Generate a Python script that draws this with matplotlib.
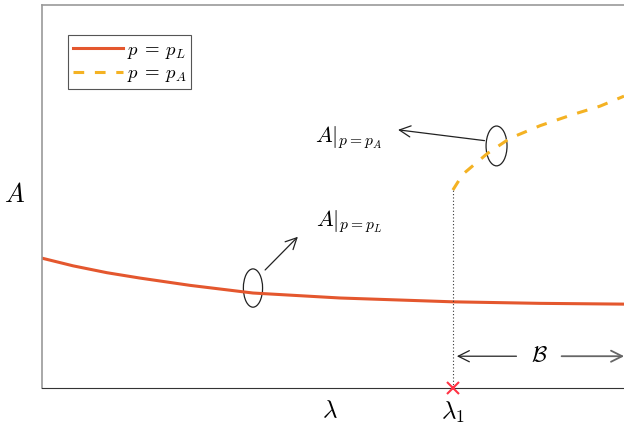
import matplotlib
matplotlib.use("Agg")
import matplotlib.pyplot as plt
from matplotlib.patches import Ellipse

plt.rcParams['mathtext.fontset'] = 'cm'
plt.rcParams['font.family'] = ['DejaVu Sans']

# Data
lam_L = [0.0, 0.533, 1.117, 1.684, 2.543, 3.625, 5.12, 7.06, 8.56, 10.0]
A_L = [3.39, 3.19, 3.01, 2.87, 2.68, 2.48, 2.35, 2.25, 2.21, 2.19]
lam_A = [7.06, 7.23, 7.65, 8.04, 8.56, 9.12, 9.59, 10.0]
A_A = [5.17, 5.58, 6.12, 6.52, 6.85, 7.14, 7.36, 7.62]
lam1 = 7.06
labels = [r'$p\:=\:p_L$', r'$p\:=\:p_A$']

c_L = '#E4572E'
c_A = '#F4B223'

fig = plt.figure(figsize=(6.24, 4.28), dpi=100)
ax = fig.add_axes([42/624, 40/428, 1 - 42/624, 383/428])
ax.set_xlim(0, 10)
ax.set_ylim(0, 10)

ax.plot(lam_L, A_L, color=c_L, lw=2.2, label=labels[0], solid_joinstyle='round')
ax.plot(lam_A, A_A, color=c_A, lw=2.2, ls=(0, (3.5, 3.5)), label=labels[1])
ax.plot([lam1, lam1], [0, A_A[0]], color='#333333', lw=0.8, ls=(0, (1, 2)))
ax.plot([lam1], [0], marker='x', color='#FF3344', ms=8, mew=1.5, clip_on=False, zorder=5)

leg = ax.legend(loc='upper left', bbox_to_anchor=(0.0447, 0.922), fontsize=13.5,
                fancybox=False, edgecolor='#555555', framealpha=1, borderaxespad=0,
                handlelength=2.7, handletextpad=0.2, borderpad=0.25, labelspacing=0.15)
leg.get_frame().set_linewidth(0.8)

for s in ['top', 'left']:
    ax.spines[s].set_color('#999999')
    ax.spines[s].set_linewidth(1.2)
ax.spines['bottom'].set_color('#333333')
ax.spines['right'].set_visible(False)
ax.set_xticks([])
ax.set_yticks([])

ax.set_xlabel(r'$\lambda$', fontsize=18, labelpad=7, x=(330-42)/582)
ax.set_ylabel(r'$A$', fontsize=19, rotation=0, labelpad=20, y=(388-208)/383)
ax.text(lam1, -0.3, r'$\lambda_1$', fontsize=18, ha='center', va='top')

# ellipses
ax.add_patch(Ellipse((3.625, 2.61), 0.33, 1.0, fill=False, lw=0.9, color='#222222'))
ax.add_patch(Ellipse((7.81, 6.32), 0.36, 1.04, fill=False, lw=0.9, color='#222222'))

arr = dict(arrowstyle='->', lw=0.9, color='#222222', mutation_scale=20)
ax.annotate('', xy=(4.43, 4.0), xytext=(3.80, 3.03), arrowprops=arr)
ax.annotate('', xy=(6.07, 6.75), xytext=(7.65, 6.45), arrowprops=arr)
ax.text(4.71, 4.35, r'$A|_{p=p_L}$', fontsize=16, ha='left', va='center')
ax.text(4.69, 6.55, r'$A|_{p=p_A}$', fontsize=16, ha='left', va='center')

# B region
ax.annotate('', xy=(lam1 + 0.02, 0.83), xytext=(8.2, 0.83), arrowprops=arr)
ax.annotate('', xy=(10.05, 0.83), xytext=(8.88, 0.83), annotation_clip=False,
            arrowprops=dict(arrowstyle='->', lw=1.3, color='#666666', mutation_scale=20))
ax.text(8.55, 0.83, r'$\mathcal{B}$', fontsize=16, ha='center', va='center')

fig.savefig('out.png', dpi=100)
